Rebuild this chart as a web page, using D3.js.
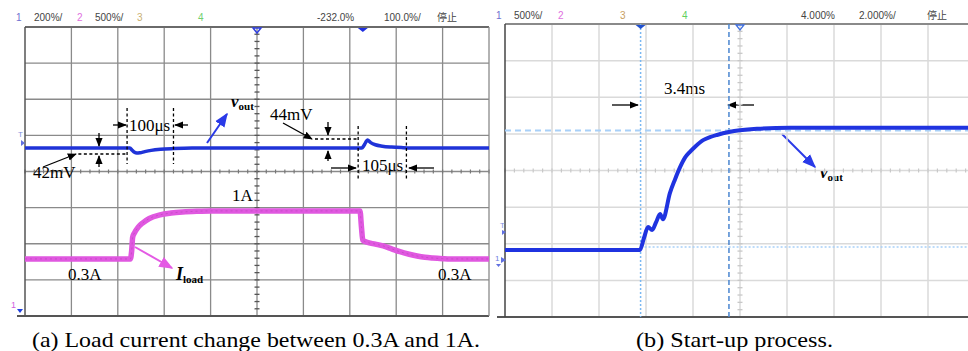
<!DOCTYPE html>
<html><head><meta charset="utf-8">
<script src="https://cdn.jsdelivr.net/npm/d3@7"></script>
<style>body{margin:0;background:#fff}svg{display:block}</style>
</head><body>
<script>
// ---------- DATA ----------
// Panel (a): time in microseconds (100 us/div), vout deviation in mV, load current in A
const voutTimeA = [0, 226, 231, 236, 241, 248, 258, 272, 292, 320, 360, 726, 730, 734, 738, 745, 755, 770, 790, 815, 850, 1000];
const voutMvA   = [0, 0, -12, -24, -28, -26, -20, -13, -7, -3, 0, 0, 12, 30, 44, 30, 18, 10, 5, 2, 0, 0];
const loadTime  = [0, 227, 230, 232, 236, 244, 254, 268, 291, 315, 340, 370, 399, 722, 725, 728, 737, 755, 772, 790, 808, 828, 845, 862, 879, 900, 916, 1000];
const loadAmp   = [0.3, 0.3, 0.42, 0.6, 0.66, 0.74, 0.8, 0.86, 0.91, 0.935, 0.95, 0.96, 0.965, 0.965, 0.75, 0.56, 0.53, 0.505, 0.48, 0.44, 0.4, 0.365, 0.34, 0.322, 0.312, 0.304, 0.3, 0.3];
// Panel (b): time in ms (2 ms/div), vout in V (500 mV/div)
const startTime = [0, 5.74, 5.91, 6.09, 6.26, 6.43, 6.60, 6.72, 7.02, 7.23, 7.45, 7.66, 7.87, 8.09, 8.43, 8.72, 9.02, 9.53, 10.0, 10.72, 12.13, 20];
const startVolt = [0, 0, 0.16, 0.314, 0.273, 0.38, 0.49, 0.42, 0.78, 0.96, 1.13, 1.26, 1.34, 1.41, 1.50, 1.54, 1.57, 1.61, 1.635, 1.655, 1.667, 1.667];
// cursors of panel (b)
const cursorTimes = [5.77, 9.53];
const cursorVolts = [1.63, 0.04];
// header labels
const headerA = [
  {t:"1", c:"#7070d0", x:16}, {t:"200%/", c:"#444", x:34}, {t:"2", c:"#e070e0", x:77},
  {t:"500%/", c:"#444", x:95}, {t:"3", c:"#c8b070", x:137}, {t:"4", c:"#70d070", x:198},
  {t:"-232.0%", c:"#444", x:317}, {t:"100.0%/", c:"#444", x:384}, {t:"停止", c:"#444", x:437}
];
const headerB = [
  {t:"1", c:"#7070d0", x:496}, {t:"500%/", c:"#444", x:514}, {t:"2", c:"#e070e0", x:558},
  {t:"3", c:"#c8a060", x:620}, {t:"4", c:"#60d060", x:682},
  {t:"4.000%", c:"#444", x:801}, {t:"2.000%/", c:"#444", x:859}, {t:"停止", c:"#444", x:927}
];
const captions = ["(a) Load current change between 0.3A and 1A.", "(b) Start-up process."];

// ---------- SVG ----------
const W = 968, H = 351;
const svg = d3.select("body").append("svg").attr("width", W).attr("height", H)
  .style("font-family", "'Liberation Serif','Times New Roman',serif");

const defs = svg.append("defs");
function marker(id, color) {
  defs.append("marker").attr("id", id).attr("viewBox", "0 0 10 10").attr("refX", 9).attr("refY", 5)
    .attr("markerWidth", 7).attr("markerHeight", 7).attr("orient", "auto-start-reverse")
    .append("path").attr("d", "M0,1 L10,5 L0,9 Z").attr("fill", color);
}
marker("ak", "#000"); marker("ab", "#2a3ae8"); marker("ap", "#e45ae4");

// ---------- Panel A ----------
const A = {l:25, r:489, t:27, b:316};
const xA = d3.scaleLinear().domain([0, 1000]).range([A.l, A.r]);
const yDivA = d3.scaleLinear().domain([-4, 4]).range([A.b, A.t]);
const voutY = mv => yDivA(0.65 + mv / 200);
const loadY = a => yDivA(-3.02 + a / 0.5);

const gA = svg.append("g");
gA.selectAll(".vx").data(d3.range(1, 10)).join("line")
  .attr("x1", d => xA(d * 100)).attr("x2", d => xA(d * 100)).attr("y1", A.t).attr("y2", A.b)
  .attr("stroke", "#8a8a8a").attr("stroke-width", 1.3);
gA.selectAll(".hy").data(d3.range(-3, 4)).join("line")
  .attr("y1", d => yDivA(d)).attr("y2", d => yDivA(d)).attr("x1", A.l).attr("x2", A.r)
  .attr("stroke", "#8a8a8a").attr("stroke-width", 1.3);
gA.selectAll(".tkv").data(d3.range(-20, 21)).join("line")
  .attr("x1", xA(500) - 2.5).attr("x2", xA(500) + 2.5)
  .attr("y1", d => yDivA(d / 5)).attr("y2", d => yDivA(d / 5)).attr("stroke", "#555").attr("stroke-width", 1.3);
gA.selectAll(".tkh").data(d3.range(-25, 26)).join("line")
  .attr("y1", yDivA(0) - 2).attr("y2", yDivA(0) + 2)
  .attr("x1", d => xA(500 + d * 20)).attr("x2", d => xA(500 + d * 20)).attr("stroke", "#777").attr("stroke-width", 1.2);
gA.append("line").attr("x1", A.l).attr("x2", A.r).attr("y1", A.t).attr("y2", A.t).attr("stroke", "#6a6a6a").attr("stroke-width", 2);
gA.append("line").attr("x1", A.l - 8).attr("x2", A.r).attr("y1", A.b).attr("y2", A.b).attr("stroke", "#555").attr("stroke-width", 2);
gA.append("line").attr("x1", A.l).attr("x2", A.l).attr("y1", A.t).attr("y2", A.b).attr("stroke", "#555").attr("stroke-width", 1.5);
gA.append("line").attr("x1", A.r).attr("x2", A.r).attr("y1", A.t).attr("y2", A.b).attr("stroke", "#8a8a8a").attr("stroke-width", 1.3);

const lineA = d3.line().curve(d3.curveMonotoneX);
gA.append("path").attr("d", lineA(loadTime.map((t, i) => [xA(t), loadY(loadAmp[i])])))
  .attr("fill", "none").attr("stroke", "#e058e0").attr("stroke-width", 5.5);
gA.append("path").attr("d", lineA(loadTime.map((t, i) => [xA(t), loadY(loadAmp[i])])))
  .attr("fill", "none").attr("stroke", "#b844b8").attr("stroke-width", 1).attr("stroke-dasharray", "2,3").attr("opacity", 0.6);
gA.append("path").attr("d", lineA(voutTimeA.map((t, i) => [xA(t), voutY(voutMvA[i])])))
  .attr("fill", "none").attr("stroke", "#1f33d8").attr("stroke-width", 3.5);

gA.append("path").attr("d", `M${xA(500)-4},28 L${xA(500)+4},28 L${xA(500)},33 Z`).attr("fill", "none").attr("stroke", "#3040e0").attr("stroke-width", 1.5);
gA.append("path").attr("d", `M${xA(728)-5},28 L${xA(728)+5},28 L${xA(728)},32 Z`).attr("fill", "#2030e0");
gA.append("text").attr("x", 18).attr("y", 137).text("T").attr("font-size", 8).attr("fill", "#8090e0").attr("font-family", "Liberation Sans");
gA.append("path").attr("d", "M21,140 L25,143 L21,146 Z").attr("fill", "#6070e0");
gA.append("text").attr("x", 11).attr("y", 308).text("1").attr("font-size", 9).attr("fill", "#d060e0").attr("font-family", "Liberation Sans");
gA.append("path").attr("d", "M17,309 L23,309 L20,313 Z").attr("fill", "#2040e0");

const ann = svg.append("g").attr("font-size", 17);
function dash(x1, y1, x2, y2) { ann.append("line").attr("x1", x1).attr("y1", y1).attr("x2", x2).attr("y2", y2).attr("stroke", "#000").attr("stroke-width", 1.3).attr("stroke-dasharray", "3,2.5"); }
function arrow(x1, y1, x2, y2, m = "ak", c = "#000", w = 1.3) { ann.append("line").attr("x1", x1).attr("y1", y1).attr("x2", x2).attr("y2", y2).attr("stroke", c).attr("stroke-width", w).attr("marker-end", `url(#${m})`); }
function txt(x, y, t) { return ann.append("text").attr("x", x).attr("y", y).text(t); }
function vout(x, y) {
  const e = ann.append("text").attr("x", x).attr("y", y).attr("font-weight", "bold");
  e.append("tspan").text("v").attr("font-style", "italic").attr("font-size", 17);
  e.append("tspan").text("out").attr("font-size", 11).attr("dy", 3);
}
dash(xA(220), 108, xA(220), 164); dash(xA(320), 108, xA(320), 164);
dash(xA(115), 154, xA(220), 154);
arrow(113, 125, 126, 125); arrow(188, 125, 175, 125);
txt(129, 131, "100μs");
arrow(99, 133, 99, 146); arrow(99, 167, 99, 156);
txt(33, 178, "42mV");
arrow(43, 167, 76, 154);
vout(231, 107);
arrow(207, 143, 227, 114, "ab", "#2a3ae8", 2);
txt(270, 120, "44mV");
arrow(283, 123, 312, 139);
dash(315, 139, xA(718), 139);
dash(xA(718), 126, xA(718), 181); dash(xA(822), 126, xA(822), 181);
arrow(328, 122, 328, 135); arrow(328, 161, 328, 151);
arrow(331, 168, 356, 168); arrow(434, 168, 409, 168);
txt(362, 171, "105μs");
txt(232, 201, "1A");
txt(68, 280, "0.3A"); txt(438, 280, "0.3A");
arrow(135, 247, 172, 268, "ap", "#e45ae4", 2);
{
  const e = ann.append("text").attr("x", 176).attr("y", 280).attr("font-weight", "bold");
  e.append("tspan").text("I").attr("font-style", "italic").attr("font-size", 18);
  e.append("tspan").text("load").attr("font-size", 11).attr("dy", 3);
}

// ---------- Panel B ----------
const B = {l:505, r:975, t:24, b:317};
const xB = d3.scaleLinear().domain([0, 20]).range([B.l, B.r]);
const yDivB = d3.scaleLinear().domain([-4, 4]).range([B.b, B.t]);
const voltY = v => yDivB(-2.17 + v / 0.5);
const gB = svg.append("g");
gB.selectAll(".vx").data(d3.range(1, 10)).join("line")
  .attr("x1", d => xB(d * 2)).attr("x2", d => xB(d * 2)).attr("y1", B.t).attr("y2", B.b)
  .attr("stroke", "#dadada").attr("stroke-width", 1.5);
gB.selectAll(".hy").data(d3.range(-3, 4)).join("line")
  .attr("y1", d => yDivB(d)).attr("y2", d => yDivB(d)).attr("x1", B.l).attr("x2", B.r)
  .attr("stroke", "#dadada").attr("stroke-width", 1.5);
gB.selectAll(".tkv").data(d3.range(-20, 21)).join("line")
  .attr("x1", xB(10) - 2.5).attr("x2", xB(10) + 2.5)
  .attr("y1", d => yDivB(d / 5)).attr("y2", d => yDivB(d / 5)).attr("stroke", "#c8c8c8").attr("stroke-width", 1.3);
gB.selectAll(".tkh").data(d3.range(-25, 26)).join("line")
  .attr("y1", yDivB(0) - 2).attr("y2", yDivB(0) + 2)
  .attr("x1", d => xB(10 + d * 0.4)).attr("x2", d => xB(10 + d * 0.4)).attr("stroke", "#c8c8c8").attr("stroke-width", 1.2);
gB.append("line").attr("x1", B.l).attr("x2", W).attr("y1", B.t).attr("y2", B.t).attr("stroke", "#8a8a8a").attr("stroke-width", 2);
gB.append("line").attr("x1", B.l - 8).attr("x2", W).attr("y1", B.b).attr("y2", B.b).attr("stroke", "#555").attr("stroke-width", 2);
gB.append("line").attr("x1", B.l).attr("x2", B.l).attr("y1", B.t).attr("y2", B.b).attr("stroke", "#444").attr("stroke-width", 1.5);
gB.append("line").attr("x1", xB(cursorTimes[0])).attr("x2", xB(cursorTimes[0])).attr("y1", B.t).attr("y2", B.b)
  .attr("stroke", "#7ab8f2").attr("stroke-width", 1.5).attr("stroke-dasharray", "2,2");
gB.append("line").attr("x1", xB(cursorTimes[1])).attr("x2", xB(cursorTimes[1])).attr("y1", B.t).attr("y2", B.b)
  .attr("stroke", "#4a86d0").attr("stroke-width", 1.5).attr("stroke-dasharray", "5,3");
gB.append("line").attr("x1", B.l).attr("x2", W).attr("y1", voltY(cursorVolts[0])).attr("y2", voltY(cursorVolts[0]))
  .attr("stroke", "#a8d0f8").attr("stroke-width", 2).attr("stroke-dasharray", "6,4");
gB.append("line").attr("x1", xB(cursorTimes[0])).attr("x2", W).attr("y1", voltY(cursorVolts[1])).attr("y2", voltY(cursorVolts[1]))
  .attr("stroke", "#a8d0f8").attr("stroke-width", 1.5).attr("stroke-dasharray", "2,2");
gB.append("path").attr("d", lineA(startTime.map((t, i) => [xB(t), voltY(startVolt[i])])))
  .attr("fill", "none").attr("stroke", "#1f33e0").attr("stroke-width", 4);
gB.append("path").attr("d", `M${xB(cursorTimes[0])-5},25 L${xB(cursorTimes[0])+5},25 L${xB(cursorTimes[0])},29 Z`).attr("fill", "#2050d0");
gB.append("path").attr("d", `M${xB(10)-4},25 L${xB(10)+4},25 L${xB(10)},30 Z`).attr("fill", "none").attr("stroke", "#4070e0").attr("stroke-width", 1.3);
gB.append("text").attr("x", 500).attr("y", 228).text("T").attr("font-size", 8).attr("fill", "#8090e0").attr("font-family", "Liberation Sans");
gB.append("path").attr("d", "M502,230 L506,232 L502,235 Z").attr("fill", "#6070e0");
gB.append("text").attr("x", 495).attr("y", 261).text("1").attr("font-size", 8).attr("fill", "#7080e0").attr("font-family", "Liberation Sans");
gB.append("path").attr("d", "M501,257 L506,260 L501,263 Z").attr("fill", "#6070e0");
gB.append("path").attr("d", "M496,264 L501,264 L498.5,267 Z").attr("fill", "#6070e0");

txt(664, 94, "3.4ms");
arrow(612, 105, 638, 105); arrow(754, 105, 728, 105);
arrow(782, 134, 815, 167, "ab", "#2a3ae8", 2);
vout(820, 178);

function header(list, y) {
  svg.append("g").selectAll("text").data(list).join("text")
    .attr("x", d => d.x).attr("y", y).text(d => d.t).attr("fill", d => d.c)
    .attr("font-size", 10).attr("font-family", "'Liberation Sans Narrow','Liberation Sans','Noto Sans CJK SC',sans-serif");
}
header(headerA, 21); header(headerB, 19);

svg.append("text").attr("x", 32).attr("y", 347).text(captions[0]).attr("font-size", 21)
  .attr("textLength", 448).attr("lengthAdjust", "spacingAndGlyphs");
svg.append("text").attr("x", 636).attr("y", 347).text(captions[1]).attr("font-size", 21)
  .attr("textLength", 197).attr("lengthAdjust", "spacingAndGlyphs");
</script>
</body></html>
